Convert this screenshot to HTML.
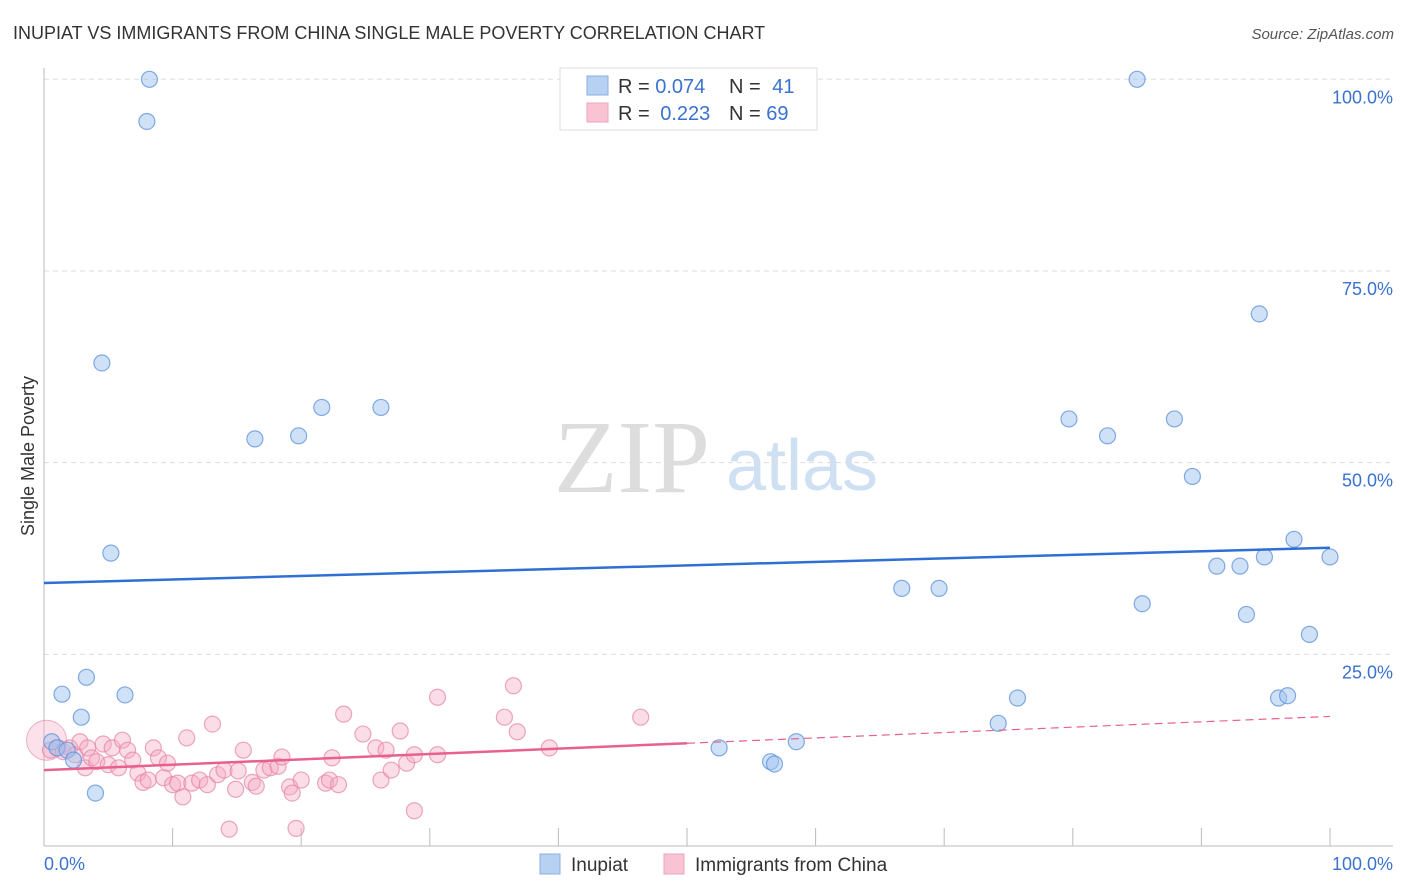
<!DOCTYPE html>
<html><head><meta charset="utf-8">
<style>
body{margin:0;background:#fff;font-family:"Liberation Sans",sans-serif;}
svg{display:block}
</style></head>
<body>
<svg id="chart" width="1406" height="892" xmlns="http://www.w3.org/2000/svg">
<text x="13" y="39" font-size="18" fill="#333">INUPIAT VS IMMIGRANTS FROM CHINA SINGLE MALE POVERTY CORRELATION CHART</text>
<text x="1394" y="39" font-size="15" fill="#555" font-style="italic" text-anchor="end">Source: ZipAtlas.com</text>
<g>
<text x="632" y="492" font-size="104" fill="#ddd" font-family="Liberation Serif,serif" text-anchor="middle">ZIP</text>
<text x="802" y="490" font-size="72" fill="#cfe0f3" text-anchor="middle">atlas</text>
</g>
<g id="grid"></g>
<g id="axes"></g>
<g id="marks"></g>
<g>
<rect x="560" y="68" width="257" height="62" fill="#fff" stroke="#ddd"/>
<rect x="587" y="76" width="21" height="19" fill="#b7d1f3" stroke="#89aee0"/>
<rect x="587" y="103" width="21" height="19" fill="#f8c4d4" stroke="#efa3bb"/>
<text x="618" y="93" font-size="20" fill="#333">R = <tspan fill="#3a72d0">0.074</tspan></text>
<text x="729" y="93" font-size="20" fill="#333">N = <tspan fill="#3a72d0" dx="6">41</tspan></text>
<text x="618" y="120" font-size="20" fill="#333">R = <tspan fill="#3a72d0" dx="5">0.223</tspan></text>
<text x="729" y="120" font-size="20" fill="#333">N = <tspan fill="#3a72d0">69</tspan></text>
</g>
<g>
<rect x="540" y="854" width="20" height="20" fill="#b7d1f3" stroke="#89aee0"/>
<text x="571" y="871" font-size="19" fill="#333">Inupiat</text>
<rect x="664" y="854" width="20" height="20" fill="#f8c4d4" stroke="#efa3bb"/>
<text x="695" y="871" font-size="19" fill="#333">Immigrants from China</text>
</g>
<text transform="translate(34,456) rotate(-90)" font-size="18" fill="#333" text-anchor="middle">Single Male Poverty</text>
</svg>
<script>
const yTicks=[25,50,75,100];
const yTickLabels=["25.0%","50.0%","75.0%","100.0%"];
const xTicks=[0,10,20,30,40,50,60,70,80,90,100];
const blueX=[8.2,8.0,4.5,21.6,26.2,16.4,19.8,5.2,3.3,1.4,6.3,2.9,0.6,1.0,1.8,2.3,4.0,85.0,94.5,79.7,82.7,87.9,89.3,97.2,94.9,100,91.2,93.0,66.7,69.6,85.4,93.5,98.4,75.7,96.0,96.7,74.2,52.5,58.5,56.5,56.8];
const blueY=[100,94.5,63.0,57.2,57.2,53.1,53.5,38.2,22.0,19.8,19.7,16.8,13.6,12.8,12.5,11.2,6.9,100,69.4,55.7,53.5,55.7,48.2,40.0,37.7,37.7,36.5,36.5,33.6,33.6,31.6,30.2,27.6,19.3,19.3,19.6,16.0,12.8,13.6,11.0,10.7];
const pinkX=[0.5,1.1,1.5,2.0,2.4,2.8,3.4,3.2,3.7,4.1,4.6,5.0,5.3,5.8,6.1,6.5,6.9,7.3,7.7,8.1,8.5,8.9,9.3,9.6,10.0,10.4,10.8,11.1,11.5,12.1,12.7,13.1,13.5,14.0,14.4,14.9,15.1,15.5,16.2,16.5,17.1,17.6,18.2,18.5,19.1,19.3,19.6,20.0,21.9,22.2,22.9,22.4,23.3,24.8,25.8,26.2,26.6,27.0,27.7,28.2,28.8,28.8,30.6,30.6,35.8,36.5,36.8,39.3,46.4];
const pinkY=[12.5,12.8,12.3,12.8,11.9,13.6,12.8,10.2,11.5,11.0,13.3,10.6,12.8,10.2,13.8,12.5,11.2,9.5,8.3,8.6,12.8,11.5,8.9,10.8,8.0,8.2,6.4,14.1,8.2,8.6,8.0,15.9,9.3,9.9,2.2,7.4,9.8,12.5,8.3,7.8,9.9,10.2,10.4,11.6,7.7,6.9,2.3,8.6,8.2,8.6,8.0,11.5,17.2,14.6,12.8,8.6,12.5,9.9,15.0,10.8,11.9,4.6,11.9,19.4,16.8,20.9,14.9,12.8,16.8];
const blueTrend=[34.3,38.9];
const pinkTrend=[9.9,16.9];
const pinkSolidEnd=50;

const X=v=>44+v*12.86;
const Y=v=>846-v*7.667;
const NS="http://www.w3.org/2000/svg";
function mk(tag,attrs,parent){const e=document.createElementNS(NS,tag);for(const k in attrs)e.setAttribute(k,attrs[k]);parent.appendChild(e);return e;}
const grid=document.getElementById('grid'),axes=document.getElementById('axes'),marks=document.getElementById('marks');
yTicks.forEach((t,i)=>{
 const l=mk('line',{x1:44,x2:1393,y1:Y(t),y2:Y(t),stroke:'#ddd','stroke-dasharray':'5,4'},grid);
 
 
 const tx=mk('text',{x:1393,y:Y(t)+24,'font-size':18,fill:'#3a72d0','text-anchor':'end'},axes);
 tx.textContent=yTickLabels[i];
 
 
});
const ax=mk('line',{x1:44,x2:44,y1:68,y2:846,stroke:'#bbb'},axes);


const bx=mk('line',{x1:44,x2:1393,y1:846,y2:846,stroke:'#bbb'},axes);


xTicks.forEach(t=>{
 const l=mk('line',{x1:X(t),x2:X(t),y1:828,y2:846,stroke:'#bbb'},axes);
 
 
});
const x0=mk('text',{x:44,y:870,'font-size':18,fill:'#3a72d0'},axes);x0.textContent='0.0%';


const x1=mk('text',{x:1393,y:870,'font-size':18,fill:'#3a72d0','text-anchor':'end'},axes);x1.textContent='100.0%';



const big=mk('circle',{cx:X(0.2),cy:Y(13.8),r:20,fill:'rgba(245,170,195,0.35)',stroke:'rgba(230,130,165,0.6)'},marks);


pinkX.forEach((v,i)=>{
 const c=mk('circle',{cx:X(v),cy:Y(pinkY[i]),r:8,fill:'rgba(245,170,195,0.4)',stroke:'rgba(230,130,165,0.7)','stroke-width':1.2},marks);
 
 
});
blueX.forEach((v,i)=>{
 const c=mk('circle',{cx:X(v),cy:Y(blueY[i]),r:8,fill:'rgba(160,195,240,0.5)',stroke:'rgba(100,150,220,0.8)','stroke-width':1.2},marks);
 
 
});
const pAt=x=>pinkTrend[0]+(pinkTrend[1]-pinkTrend[0])*x/100;
const bt=mk('line',{x1:X(0),y1:Y(blueTrend[0]),x2:X(100),y2:Y(blueTrend[1]),stroke:'#2f6fd3','stroke-width':2.5},marks);


const pt=mk('line',{x1:X(0),y1:Y(pAt(0)),x2:X(pinkSolidEnd),y2:Y(pAt(pinkSolidEnd)),stroke:'#e8608e','stroke-width':2.5},marks);


const pd=mk('line',{x1:X(pinkSolidEnd),y1:Y(pAt(pinkSolidEnd)),x2:X(100),y2:Y(pAt(100)),stroke:'#e8608e','stroke-width':1.2,'stroke-dasharray':'8,5'},marks);


</script>
</body></html>
